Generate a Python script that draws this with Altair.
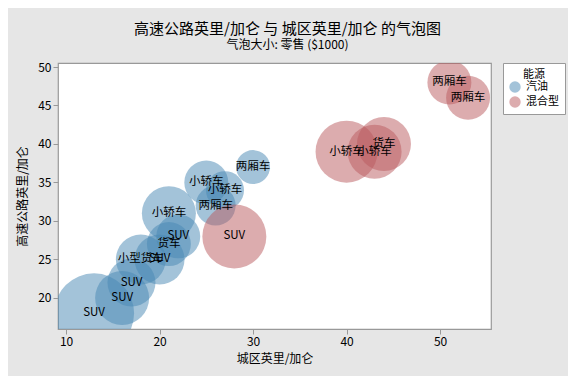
import altair as alt
import pandas as pd

# data
city_mpg = [13, 16, 17, 18, 20, 21, 22, 21, 25, 27, 26, 30, 28, 40, 43, 44, 51, 53]
hwy_mpg = [18, 20, 22, 25, 25, 27, 28, 31, 35, 34, 32, 37, 28, 39, 39, 40, 48, 46]
vehicle = ["SUV", "SUV", "SUV", "小型货车", "SUV", "货车", "SUV", "小轿车", "小轿车", "小轿车",
           "两厢车", "两厢车", "SUV", "小轿车", "小轿车", "货车", "两厢车", "两厢车"]
energy = ["汽油"] * 12 + ["混合型"] * 6
retail = [50, 22.8, 18, 19.5, 19.5, 15.1, 15.1, 22.8, 15.1, 11.3, 12.5, 9.0,
          32, 30, 22.8, 22.8, 15.1, 15.1]

df = pd.DataFrame({
    "城区英里/加仑": city_mpg,
    "高速公路英里/加仑": hwy_mpg,
    "车型": vehicle,
    "能源": energy,
    "零售": retail,
})

FONT = "Noto Sans CJK SC"

x = alt.X("城区英里/加仑:Q",
          scale=alt.Scale(domain=[9.14, 55.45], nice=False, zero=False),
          axis=alt.Axis(values=[10, 20, 30, 40, 50], title="城区英里/加仑"))
y = alt.Y("高速公路英里/加仑:Q",
          scale=alt.Scale(domain=[15.97, 50.52], nice=False, zero=False),
          axis=alt.Axis(values=[20, 25, 30, 35, 40, 45, 50], title="高速公路英里/加仑"))

bubbles = alt.Chart(df).mark_circle(opacity=0.5, clip=True, stroke=None).encode(
    x=x,
    y=y,
    size=alt.Size("零售:Q", scale=alt.Scale(domain=[0, 50], range=[0, 6400]), legend=None),
    color=alt.Color("能源:N",
                    scale=alt.Scale(domain=["汽油", "混合型"], range=["#4787b3", "#b95a5e"]),
                    legend=alt.Legend(title="能源", orient="right", offset=12,
                                      symbolType="circle", symbolSize=130,
                                      symbolOpacity=0.5, symbolStrokeWidth=0,
                                      titleAnchor="middle", titleFontWeight="normal",
                                      titleFontSize=11, labelFontSize=11,
                                      titleFont=FONT, labelFont=FONT,
                                      titleColor="black", labelColor="black",
                                      strokeColor="#999999", fillColor="white",
                                      padding=6, rowPadding=3, titlePadding=1,
                                      labelOffset=5)),
)

labels = alt.Chart(df).mark_text(fontSize=11.5, font=FONT, color="black", clip=True).encode(
    x=x,
    y=y,
    text="车型:N",
)

chart = alt.layer(bubbles, labels).properties(
    width=433,
    height=266,
    autosize=alt.AutoSizeParams(type="none"),
    padding={"left": 50, "top": 55, "right": 77, "bottom": 47},
    background="#e6e6e6",
    title=alt.TitleParams(
        text="高速公路英里/加仑 与 城区英里/加仑 的气泡图",
        subtitle="气泡大小: 零售 ($1000)",
        anchor="middle",
        dx=13,
        offset=10,
        fontSize=15,
        fontWeight="normal",
        subtitleFontSize=12,
        font=FONT,
        subtitleFont=FONT,
        color="black",
        subtitleColor="black",
        subtitlePadding=3,
    ),
).configure_view(
    fill="white", stroke="#999999", strokeWidth=1.2
).configure_axis(
    grid=False, domain=False, tickColor="#999999", tickSize=5,
    labelFont=FONT, titleFont=FONT, labelFontSize=12, titleFontSize=12,
    labelColor="black", titleColor="black", titleFontWeight="normal",
    labelPadding=2,
).configure_axisY(titlePadding=8).configure_axisX(titlePadding=6)

chart.save("out.html", embed_options={"renderer": "svg", "actions": False})
